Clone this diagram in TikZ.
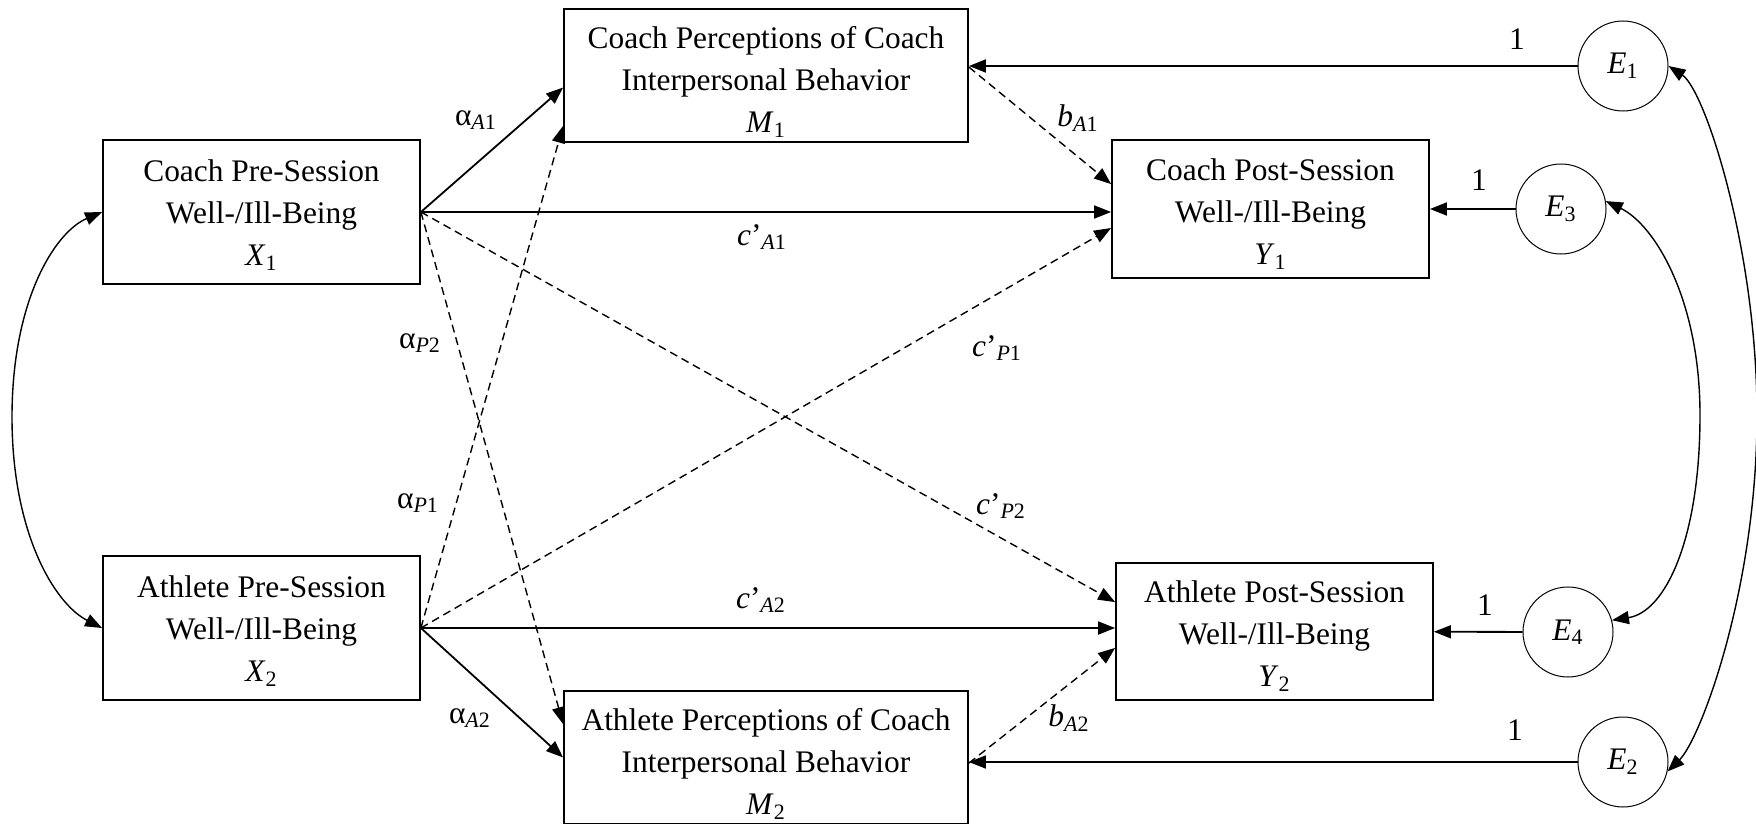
\documentclass[tikz,border=0pt]{standalone}
\usepackage{fontspec}
\setmainfont{Liberation Serif}
\usetikzlibrary{arrows.meta,calc}

\newcommand{\topgap}[1]{\rule{0pt}{#1}}

\begin{document}
\begin{tikzpicture}[x=0.5pt,y=-0.5pt,
  font=\fontsize{15.7}{21}\selectfont,
  varbox/.style={draw, line width=0.9pt, align=center, inner sep=0pt, minimum width=158.5pt},
  errc/.style={draw, circle, line width=0.5pt, minimum size=45pt, inner sep=0pt},
  solidarr/.style={line width=0.9pt, -{Triangle[length=8.5pt,width=6.5pt]}},
  dasharr/.style={line width=0.7pt, dash pattern=on 4pt off 2.5pt, -{Triangle[length=8.5pt,width=6.5pt]}},
  covarr/.style={line width=0.7pt, {Triangle[length=8.5pt,width=6.5pt]}-{Triangle[length=8.5pt,width=6.5pt]}}
]

\useasboundingbox (0,0) rectangle (1756,824);

\coordinate (cX1) at (261.5,212);
\coordinate (cX2) at (261.5,628);
\coordinate (cM1) at (766,75.5);
\coordinate (cM2) at (766,757.5);
\coordinate (cY1) at (1270.5,209);
\coordinate (cY2) at (1274.5,631.5);
\coordinate (cE1) at (1623,66);
\coordinate (cE2) at (1623,762);
\coordinate (cE3) at (1561,209);
\coordinate (cE4) at (1568,632);

\node [varbox, minimum height=72pt] (X1) at (cX1) {\topgap{14.2pt}Coach Pre-Session\\Well-/Ill-Being\\\textit{X}\textsubscript{1}};
\node [varbox, minimum height=72pt] (X2) at (cX2) {\topgap{14.2pt}Athlete Pre-Session\\Well-/Ill-Being\\\textit{X}\textsubscript{2}};
\node [varbox, minimum width=202pt, minimum height=66.5pt] (M1) at (cM1) {\topgap{17.5pt}Coach Perceptions of Coach\\Interpersonal Behavior\\\textit{M}\textsubscript{1}};
\node [varbox, minimum width=202pt, minimum height=66.5pt] (M2) at (cM2) {\topgap{17.5pt}Athlete Perceptions of Coach\\Interpersonal Behavior\\\textit{M}\textsubscript{2}};
\node [varbox, minimum height=69pt] (Y1) at (cY1) {\topgap{15.8pt}Coach Post-Session\\Well-/Ill-Being\\\textit{Y}\textsubscript{1}};
\node [varbox, minimum height=68.5pt] (Y2) at (cY2) {\topgap{15.8pt}Athlete Post-Session\\Well-/Ill-Being\\\textit{Y}\textsubscript{2}};

\node [errc] (E1) at (cE1) {\textit{E}\textsubscript{1}};
\node [errc] (E2) at (cE2) {\textit{E}\textsubscript{2}};
\node [errc] (E3) at (cE3) {\textit{E}\textsubscript{3}};
\node [errc] (E4) at (cE4) {\textit{E}\textsubscript{4}};

\draw [solidarr] (X1.east) -- ($(M1.west)+(0,12)$);
\draw [solidarr] (X1.east) -- (X1.east -| Y1.west);
\draw [dasharr] (X1.east) -- ($(M2.north west)+(0,34)$);
\draw [dasharr] (X1.east) -- ($(Y2.north west)+(0,40)$);
\draw [solidarr] (X2.east) -- (M2.west);
\draw [solidarr] (X2.east) -- (X2.east -| Y2.west);
\draw [dasharr] (X2.east) -- ($(M1.south west)+(0,-17)$);
\draw [dasharr] (X2.east) -- ($(Y1.west)+(0,19)$);
\draw [dasharr] ($(M1.north east)+(0,59)$) -- ($(Y1.north west)+(0,45)$);
\draw [dasharr] ($(M2.north east)+(0,73)$) -- ($(Y2.south west)+(0,-53)$);

\draw [solidarr] (E1) -- (E1 -| M1.east);
\draw [solidarr] (E2) -- (E2 -| M2.east);
\draw [solidarr] (E3) -- (Y1);
\draw [solidarr] (E4) -- (Y2);

\draw [covarr] (X1.west) .. controls (55,232) and (12,300) .. (12,417) .. controls (12,534) and (55,604) .. (X2.west);
\draw [covarr] (E3.10) .. controls (1655,225) and (1700,300) .. (1700,415) .. controls (1700,540) and (1665,612) .. (E4.15);
\draw [covarr] (E1.east) .. controls (1705,90) and (1757,250) .. (1757,415) .. controls (1757,590) and (1700,740) .. (E2.-12);

\node (lAA1) at (476,120) {α\textsubscript{\textit{A}1}};
\node (lAP2) at (420,343) {α\textsubscript{\textit{P}2}};
\node (lAP1) at (418,503) {α\textsubscript{\textit{P}1}};
\node (lAA2) at (470,718) {α\textsubscript{\textit{A}2}};
\node (lbA1) at (1078,118) {\textit{b}\textsubscript{\textit{A}1}};
\node (lbA2) at (1069,718) {\textit{b}\textsubscript{\textit{A}2}};
\node (lcA1) at (762,237) {\textit{c}’\textsubscript{\textit{A}1}};
\node (lcA2) at (761,600) {\textit{c}’\textsubscript{\textit{A}2}};
\node (lcP1) at (997,348) {\textit{c}’\textsubscript{\textit{P}1}};
\node (lcP2) at (1001,506) {\textit{c}’\textsubscript{\textit{P}2}};

\node (lE1) at (1517,39) {1};
\node (lE3) at (1479,180) {1};
\node (lE4) at (1485,605) {1};
\node (lE2) at (1515,730) {1};

\end{tikzpicture}
\end{document}
